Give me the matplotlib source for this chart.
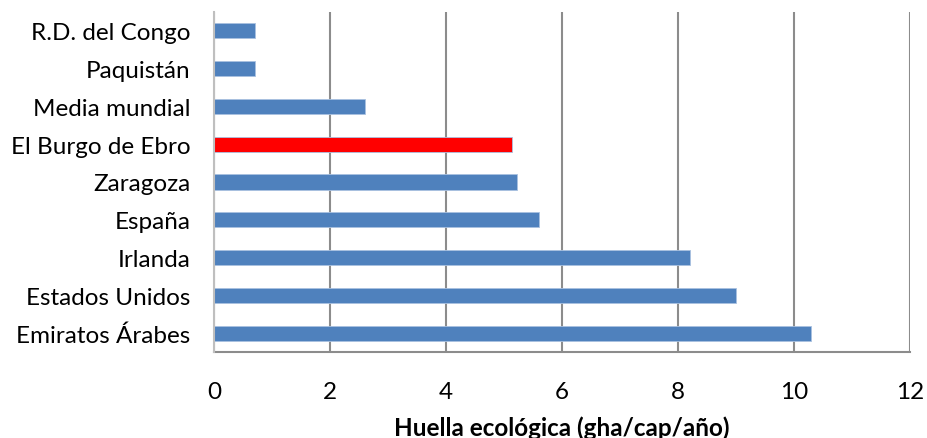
import matplotlib.pyplot as plt

# datos (de abajo a arriba)
lugares = ['Emiratos Árabes', 'Estados Unidos', 'Irlanda', 'España', 'Zaragoza',
           'El Burgo de Ebro', 'Media mundial', 'Paquistán', 'R.D. del Congo']
huella = [10.3, 9.0, 8.2, 5.6, 5.23, 5.13, 2.6, 0.7, 0.7]
colores = ['#4F81BD'] * 9
colores[5] = '#FF0000'

plt.rcParams['font.family'] = ['Lato', 'DejaVu Sans']

fig = plt.figure(figsize=(9.27, 4.39), dpi=100)
ax = fig.add_axes([0.2309, 0.1959, 0.9817 - 0.2309, 0.9704 - 0.1959])

ax.barh(range(len(lugares)), huella, height=0.4, color=colores,
        edgecolor='#A9C1E0', linewidth=0.6, zorder=3)

ax.set_xlim(0, 12)
ax.set_ylim(-0.5, len(lugares) - 0.5)
ax.set_xticks(range(0, 13, 2))
ax.set_yticks(range(len(lugares)))
ax.set_yticklabels(lugares)

ax.grid(axis='x', color='#8C8C8C', linewidth=1.5, zorder=0)
for s in ['top', 'right']:
    ax.spines[s].set_visible(False)
ax.spines['left'].set_color('#BFBFBF')
ax.spines['left'].set_linewidth(1.5)
ax.spines['left'].set_zorder(4)
ax.spines['bottom'].set_color('#8C8C8C')
ax.spines['bottom'].set_linewidth(1.5)

ax.tick_params(axis='both', length=0, labelsize=17.5, colors='black')
ax.tick_params(axis='x', pad=21)
ax.tick_params(axis='y', pad=17)

ax.set_xlabel('Huella ecológica (gha/cap/año)', fontsize=17.5, fontweight='bold')
ax.xaxis.label.set_va('center')
ax.xaxis.set_label_coords(0.5, -0.222)

fig.savefig('out.png', dpi=100)
